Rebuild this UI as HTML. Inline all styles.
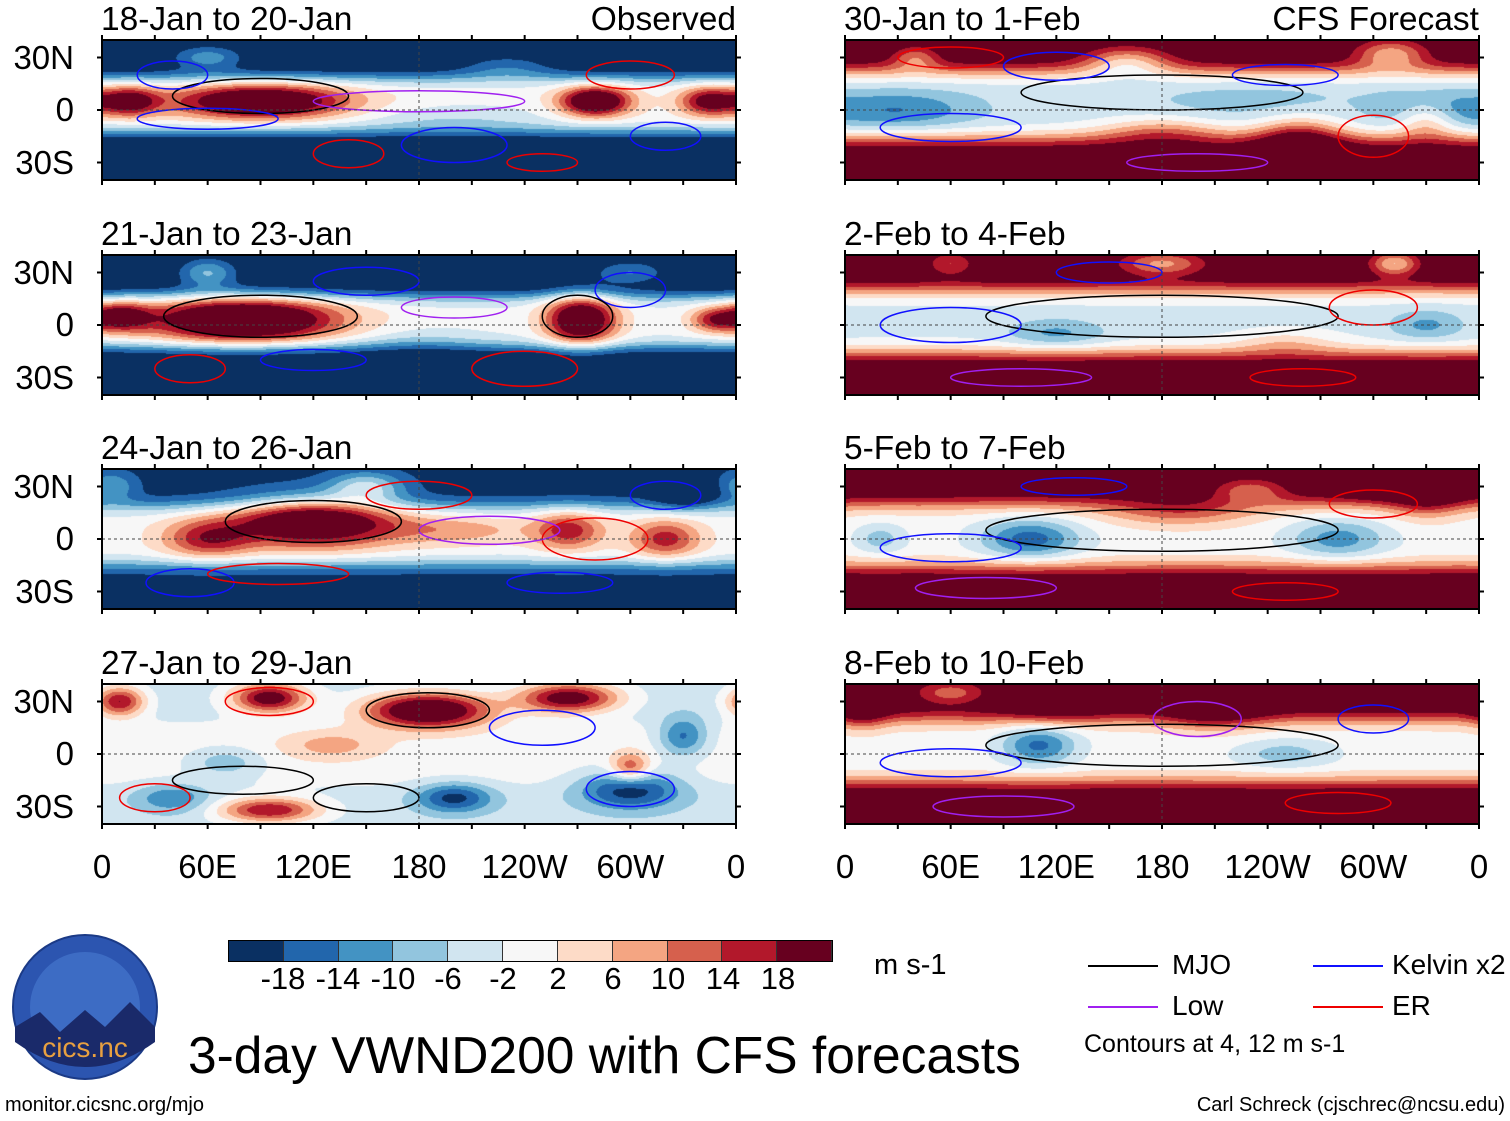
<!DOCTYPE html>
<html><head><meta charset="utf-8">
<style>
body{margin:0;background:#fff;}
#root{position:relative;width:1510px;height:1121px;overflow:hidden;font-family:"Liberation Sans",sans-serif;color:#000;}
.t{position:absolute;white-space:nowrap;line-height:1;}
canvas{position:absolute;}
svg.ov{position:absolute;overflow:visible;}
</style></head><body>
<div id="root"></div>
<script>
// ---- data ----
const colorLevels = [-18,-14,-10,-6,-2,2,6,10,14,18];
const colorPalette = ["#0a3062","#2266ac","#4393c3","#92c5de","#d1e5f0","#f7f7f7","#fddbc7","#f4a582","#d6604d","#b2182b","#67001f"];
const panelTitles = ["18-Jan to 20-Jan","21-Jan to 23-Jan","24-Jan to 26-Jan","27-Jan to 29-Jan","30-Jan to 1-Feb","2-Feb to 4-Feb","5-Feb to 7-Feb","8-Feb to 10-Feb"];
const latTicks = ["30N","0","30S"];
const latTickValues = [30,0,-30];
const lonTickLabels = ["0","60E","120E","180","120W","60W","0"];
const lonTickValues = [0,60,120,180,240,300,360];
// background: [offEquatorValue, equatorValue, bandHalfWidthDeg, bandCenterLat]
const panelBackground = [[-24,0,17,3],[-24,-1,16,2],[-20,0,18,2],[-4,0,20,0],[24,-4,21,3],[24,-3,20,2],[24,0,20,2],[24,0,20,2]];
// blobs: [lon, lat, sigmaLon, sigmaLat, amplitude]
const panelBlobs = [
 [[90,5,35,7,30],[15,5,12,6,22],[280,5,14,6,30],[345,5,12,6,22],[200,-5,40,6,-5],[230,25,20,5,8],[60,30,15,5,12]],
 [[80,3,38,9,35],[272,3,14,10,30],[10,5,12,6,20],[348,3,10,5,16],[60,30,12,6,14],[180,-10,25,6,-4],[300,30,15,5,10]],
 [[120,10,32,10,30],[60,0,18,8,16],[265,5,14,8,16],[320,0,14,8,16],[150,30,15,6,14],[5,30,10,6,10],[200,5,30,6,8],[330,25,12,6,-10]],
 [[95,32,15,6,26],[185,25,25,7,32],[265,32,20,6,26],[10,30,10,6,22],[300,-20,20,8,-18],[200,-25,15,6,-16],[330,10,10,8,-14],[40,-25,15,6,-10],[95,-32,20,5,22],[300,-8,8,6,16],[70,-5,15,6,-8],[130,5,20,6,8]],
 [[30,0,30,8,-10],[330,0,20,8,-10],[180,-12,25,6,10],[258,-15,18,8,16],[330,-5,12,8,14],[160,28,18,6,-16],[310,32,15,6,-16],[40,30,10,5,-12],[230,5,40,8,-4]],
 [[120,-5,20,6,-8],[330,0,15,6,-8],[180,35,18,5,-15],[312,35,10,5,-18],[60,35,10,5,-10],[250,-10,20,5,6]],
 [[105,0,20,8,-16],[280,0,20,8,-12],[20,0,10,6,-8],[190,15,30,6,10],[330,22,15,8,10],[300,33,12,6,10],[230,28,15,5,-12]],
 [[110,5,15,8,-15],[250,0,20,6,-8],[210,25,20,8,12],[10,25,10,8,10],[120,25,20,6,6],[60,35,15,5,-12]]
];
// contours: [lon, lat, rLon, rLat, colorIndex] colors: 0 black,1 blue,2 purple,3 red
const contourColors = ["#000","#1010ff","#a020f0","#ee0000"];
const panelContours = [
 [[90,8,50,10,0],[200,-20,30,10,1],[300,20,25,8,3],[140,-25,20,8,3],[40,20,20,8,1],[250,-30,20,5,3],[180,5,60,6,2],[60,-5,40,6,1],[320,-15,20,8,1]],
 [[90,5,55,12,0],[240,-25,30,10,3],[150,25,30,8,1],[300,20,20,10,1],[50,-25,20,8,3],[270,5,20,12,0],[120,-20,30,6,1],[200,10,30,6,2]],
 [[120,10,50,12,0],[280,0,30,12,3],[50,-25,25,8,1],[180,25,30,8,3],[320,25,20,8,1],[220,5,40,8,2],[100,-20,40,6,3],[260,-25,30,6,1]],
 [[185,25,35,10,0],[95,30,25,8,3],[300,-20,25,10,1],[80,-15,40,8,0],[250,15,30,10,1],[30,-25,20,8,3],[150,-25,30,8,0]],
 [[180,10,80,10,0],[60,30,30,6,3],[300,-15,20,12,3],[200,-30,40,5,2],[120,25,30,8,1],[60,-10,40,8,1],[250,20,30,6,1]],
 [[180,5,100,12,0],[100,-30,40,5,2],[260,-30,30,5,3],[150,30,30,6,1],[300,10,25,10,3],[60,0,40,10,1]],
 [[180,5,100,12,0],[80,-28,40,6,2],[250,-30,30,5,3],[300,20,25,8,3],[130,30,30,5,1],[60,-5,40,8,1]],
 [[180,5,100,12,0],[200,20,25,10,2],[90,-30,40,6,2],[280,-28,30,6,3],[300,20,20,8,1],[60,-5,40,8,1]]
];
const legendItems = [["MJO","#000"],["Low","#a020f0"],["Kelvin x2","#1010ff"],["ER","#ee0000"]];

// ---- layout ----
const root = document.getElementById('root');
const PW=634, PH=140;
const colX=[102,845], rowY=[40,255,469,684];
function xScale(lon){return lon/360*PW;}
function yScale(lat){return (40-lat)/80*PH;}
function hexRGB(h){return [parseInt(h.substr(1,2),16),parseInt(h.substr(3,2),16),parseInt(h.substr(5,2),16)];}
const palRGB=colorPalette.map(hexRGB);

function addText(txt,x,y,size,name,anchor){
 const d=document.createElement('div');d.className='t';d.textContent=txt;
 d.style.fontSize=size+'px';d.style.top=y+'px';
 if(anchor==='right'){d.style.right=(1510-x)+'px';}
 else if(anchor==='center'){d.style.left=(x-200)+'px';d.style.width='400px';d.style.textAlign='center';}
 else d.style.left=x+'px';
 
 
 root.appendChild(d);return d;
}

for(let p=0;p<8;p++){
 const col=p<4?0:1,row=p%4;
 const X=colX[col],Y=rowY[row];
 const cv=document.createElement('canvas');cv.width=PW;cv.height=PH;
 cv.style.left=X+'px';cv.style.top=Y+'px';
 
 
 root.appendChild(cv);
 const ctx=cv.getContext('2d');const img=ctx.createImageData(PW,PH);
 const bg=panelBackground[p],blobs=panelBlobs[p];
 for(let py=0;py<PH;py++){
  const lat=40-(py+0.5)/PH*80;
  const base=bg[0]+(bg[1]-bg[0])*Math.exp(-Math.pow((lat-bg[3])/bg[2],4));
  for(let px=0;px<PW;px++){
   const lon=(px+0.5)/PW*360;let v=base;
   for(const b of blobs){let dl=Math.abs(lon-b[0]);if(dl>180)dl=360-dl;
    v+=b[4]*Math.exp(-(dl*dl)/(2*b[2]*b[2])-((lat-b[1])*(lat-b[1]))/(2*b[3]*b[3]));}
   let i=0;while(i<colorLevels.length&&v>=colorLevels[i])i++;
   const c=palRGB[i],k=(py*PW+px)*4;img.data[k]=c[0];img.data[k+1]=c[1];img.data[k+2]=c[2];img.data[k+3]=255;
  }
 }
 ctx.putImageData(img,0,0);
 const ns='http://www.w3.org/2000/svg';
 const svg=document.createElementNS(ns,'svg');svg.setAttribute('class','ov');
 svg.setAttribute('width',PW);svg.setAttribute('height',PH);
 svg.style.left=X+'px';svg.style.top=Y+'px';
 
 
 root.appendChild(svg);
 const cp=document.createElementNS(ns,'clipPath');cp.setAttribute('id','cp'+p);
 const cr=document.createElementNS(ns,'rect');cr.setAttribute('width',PW);cr.setAttribute('height',PH);cp.appendChild(cr);svg.appendChild(cp);
 const g=document.createElementNS(ns,'g');g.setAttribute('clip-path','url(#cp'+p+')');svg.appendChild(g);
 for(const c of panelContours[p]){
  const e=document.createElementNS(ns,'ellipse');
  e.setAttribute('cx',xScale(c[0]));e.setAttribute('cy',yScale(c[1]));
  e.setAttribute('rx',xScale(c[2]));e.setAttribute('ry',c[3]/80*PH);
  e.setAttribute('fill','none');e.setAttribute('stroke',contourColors[c[4]]);e.setAttribute('stroke-width','1.5');
  
  
  g.appendChild(e);
 }
 const eq=document.createElementNS(ns,'line');eq.setAttribute('x1',0);eq.setAttribute('x2',PW);
 eq.setAttribute('y1',yScale(0));eq.setAttribute('y2',yScale(0));eq.setAttribute('stroke','#444');eq.setAttribute('stroke-dasharray','3,3');
 
 
 g.appendChild(eq);
 const dl=document.createElementNS(ns,'line');dl.setAttribute('x1',xScale(180));dl.setAttribute('x2',xScale(180));
 dl.setAttribute('y1',0);dl.setAttribute('y2',PH);dl.setAttribute('stroke','#444');dl.setAttribute('stroke-dasharray','3,3');
 
 
 g.appendChild(dl);
 const fr=document.createElementNS(ns,'rect');fr.setAttribute('x',0);fr.setAttribute('y',0);fr.setAttribute('width',PW);fr.setAttribute('height',PH);
 fr.setAttribute('fill','none');fr.setAttribute('stroke','#000');fr.setAttribute('stroke-width','2');
 
 
 svg.appendChild(fr);
 for(let lon=0;lon<=360;lon+=30){
  for(const yy of [[0,-5],[PH,PH+5]]){
   const tk=document.createElementNS(ns,'line');tk.setAttribute('x1',xScale(lon));tk.setAttribute('x2',xScale(lon));
   tk.setAttribute('y1',yy[0]);tk.setAttribute('y2',yy[1]);tk.setAttribute('stroke','#000');tk.setAttribute('stroke-width','2');
   
   
   svg.appendChild(tk);
  }
 }
 for(const lt of latTickValues){
  for(const xx of [[0,-5],[PW,PW+5]]){
   const tk=document.createElementNS(ns,'line');tk.setAttribute('x1',xx[0]);tk.setAttribute('x2',xx[1]);
   tk.setAttribute('y1',yScale(lt));tk.setAttribute('y2',yScale(lt));tk.setAttribute('stroke','#000');tk.setAttribute('stroke-width','2');
   
   
   svg.appendChild(tk);
  }
 }
 addText(panelTitles[p],X-1,Y-37,33.5,'panel-title-'+(p+1));
 if(row===0) addText(col===0?'Observed':'CFS Forecast',X+PW,Y-37,33.5,col===0?'observed-label':'forecast-label','right');
 if(col===0){latTicks.forEach((t,i)=>addText(t,74,Y+yScale(latTickValues[i])-17,33,'lat-label','right'));}
 if(row===3){lonTickLabels.forEach((t,i)=>addText(t,X+xScale(lonTickValues[i]),850,33,'lon-label','center'));}
}

// colorbar
const cb=document.createElement('div');cb.style.cssText='position:absolute;left:228px;top:940px;width:605px;height:22px;display:flex;border:1px solid #000;box-sizing:border-box;';


colorPalette.forEach(c=>{const b=document.createElement('div');b.style.cssText='flex:1;background:'+c+';border-right:1px solid #333;';
 
 
 cb.appendChild(b);});
root.appendChild(cb);
colorLevels.forEach((l,i)=>addText(String(l),228+55*(i+1),963,31,'colorbar-label','center'));
addText('m s-1',874,951,29,'units-label');

// legend
const lgPos=[[1088,951],[1088,992],[1313,951],[1313,992]];
legendItems.forEach((it,i)=>{
 const ln=document.createElement('div');ln.style.cssText='position:absolute;left:'+lgPos[i][0]+'px;top:'+(lgPos[i][1]+14)+'px;width:70px;height:2px;background:'+it[1]+';';
 
 
 root.appendChild(ln);
 addText(it[0],lgPos[i][0]+(i<2?84:79),lgPos[i][1],28,'legend-entry');
});
addText('Contours at 4, 12 m s-1',1084,1032,25,'contour-note');
addText('3-day VWND200 with CFS forecasts',188,1030,51.5,'main-title');
addText('monitor.cicsnc.org/mjo',5,1095,20,'source-url');
addText('Carl Schreck (cjschrec@ncsu.edu)',1505,1095,20,'author-credit','right');

// logo
const logo=document.createElement('div');
logo.innerHTML='<svg width="150" height="150" viewBox="0 0 150 150"><circle cx="75" cy="75" r="72" fill="#2c55b0" stroke="#1b3a86" stroke-width="2"/><circle cx="75" cy="75" r="55" fill="#3d6cc4"/><path d="M5 95 L30 80 L50 100 L75 78 L95 95 L120 70 L145 95 L145 110 Q75 160 5 110Z" fill="#1a2a6a"/><text x="75" y="125" text-anchor="middle" font-family="Liberation Sans" font-size="28" fill="#e8a040">cics.nc</text></svg>';
logo.style.cssText='position:absolute;left:10px;top:932px;';


root.appendChild(logo);
</script>
</body></html>
